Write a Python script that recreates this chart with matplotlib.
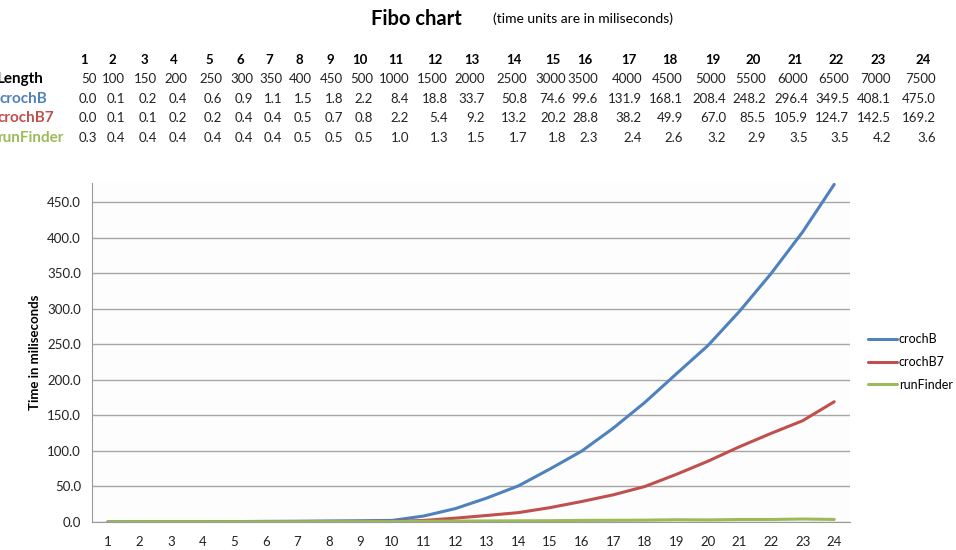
import matplotlib
matplotlib.use("Agg")
import matplotlib.pyplot as plt

plt.rcParams['font.family'] = ['Lato', 'DejaVu Sans']

runs = list(range(1, 25))
lengths = [50, 100, 150, 200, 250, 300, 350, 400, 450, 500, 1000, 1500, 2000,
           2500, 3000, 3500, 4000, 4500, 5000, 5500, 6000, 6500, 7000, 7500]
croch_b = [0.0, 0.1, 0.2, 0.4, 0.6, 0.9, 1.1, 1.5, 1.8, 2.2, 8.4, 18.8, 33.7,
           50.8, 74.6, 99.6, 131.9, 168.1, 208.4, 248.2, 296.4, 349.5, 408.1, 475.0]
croch_b7 = [0.0, 0.1, 0.1, 0.2, 0.2, 0.4, 0.4, 0.5, 0.7, 0.8, 2.2, 5.4, 9.2,
            13.2, 20.2, 28.8, 38.2, 49.9, 67.0, 85.5, 105.9, 124.7, 142.5, 169.2]
run_finder = [0.3, 0.4, 0.4, 0.4, 0.4, 0.4, 0.4, 0.5, 0.5, 0.5, 1.0, 1.3, 1.5,
              1.7, 1.8, 2.3, 2.4, 2.6, 3.2, 2.9, 3.5, 3.5, 4.2, 3.6]

series = [("crochB", croch_b, "#4F81BD"),
          ("crochB7", croch_b7, "#C0504D"),
          ("runFinder", run_finder, "#9BBB59")]

W, H = 956, 550
fig = plt.figure(figsize=(W / 100, H / 100), dpi=100)
fig.patch.set_facecolor("white")

# title
fig.text(462 / W, 1 - 19 / H, "Fibo chart", fontsize=14.5, fontweight="bold",
         ha="right", va="center")
fig.text(493 / W, 1 - 19 / H, "(time units are in miliseconds)", fontsize=10,
         ha="left", va="center")

# data table above the chart, right edges of each column in pixels
col_right = [97, 125, 157, 187, 222, 253, 282, 312, 343, 373, 409, 448, 485,
             527, 566, 598, 642, 683, 726, 766, 808, 849, 891, 936]
row_y = [60, 79, 99, 118, 138]
tfs = 9.5

for i, r in enumerate(runs):
    fig.text((col_right[i] - 13) / W, 1 - row_y[0] / H, str(r), fontsize=tfs,
             fontweight="bold", ha="center", va="center")

rows = [("Length", lengths, "black", "{}"),
        ("crochB", croch_b, "#4F81BD", "{:.1f}"),
        ("crochB7", croch_b7, "#C0504D", "{:.1f}"),
        ("runFinder", run_finder, "#9BBB59", "{:.1f}")]
# row labels run off the left edge and get cut there
label_right = [44, 47, 54, 64]
for k, (name, vals, col, fmt) in enumerate(rows):
    y = 1 - row_y[k + 1] / H
    fig.text(label_right[k] / W, y, name, fontsize=11, fontweight="bold",
             color=col, ha="right", va="center")
    for i, v in enumerate(vals):
        fig.text(col_right[i] / W, y, fmt.format(v), fontsize=tfs,
                 ha="right", va="center", color="#222222")

# chart
ax = fig.add_axes([92 / W, 1 - 522 / H, (850 - 92) / W, (522 - 183) / H])
ax.set_facecolor("#FDFDFD")
for name, vals, col in series:
    ax.plot(runs, vals, color=col, lw=2.2, label=name, solid_capstyle="round")

ax.set_xlim(0.5, 24.5)
ax.set_ylim(0, 477)
ax.set_xticks(runs)
ax.set_yticks(range(0, 451, 50))
ax.set_yticklabels([f"{v:.1f}" for v in range(0, 451, 50)])
ax.tick_params(length=0, labelsize=9.5, colors="#222222", pad=8)
ax.tick_params(axis="x", pad=10)
ax.grid(axis="y", color="#A6A6A6", lw=1)
ax.set_axisbelow(True)
for side in ["top", "right"]:
    ax.spines[side].set_visible(False)
for side in ["left", "bottom"]:
    ax.spines[side].set_color("#999999")
ax.set_ylabel("Time in miliseconds", fontsize=9.5, fontweight="bold", labelpad=4)

ax.legend(loc="center left", bbox_to_anchor=(868 / W, 1 - 362 / H),
          bbox_transform=fig.transFigure, frameon=False, fontsize=9,
          handlelength=2.3, handletextpad=0.15, labelspacing=0.85,
          borderaxespad=0, borderpad=0)

fig.savefig("out.png", dpi=100)
